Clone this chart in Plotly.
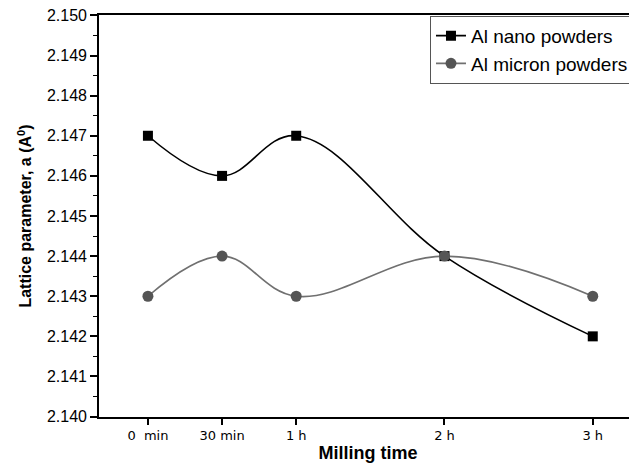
import plotly.graph_objects as go

milling_minutes = [0, 30, 60, 120, 180]
tick_labels = ["0\u00a0\u00a0min", "30\u00a0min", "1 h", "2 h", "3 h"]
nano = [2.147, 2.146, 2.147, 2.144, 2.142]
micron = [2.143, 2.144, 2.143, 2.144, 2.143]

fig = go.Figure()
fig.add_trace(go.Scatter(
    x=milling_minutes, y=nano, name="Al nano powders",
    mode="lines+markers",
    line=dict(color="#000000", width=1.6, shape="spline", smoothing=1.1),
    marker=dict(symbol="square", size=10, color="#000000"),
))
fig.add_trace(go.Scatter(
    x=milling_minutes, y=micron, name="Al micron powders",
    mode="lines+markers",
    line=dict(color="#707070", width=1.6, shape="spline", smoothing=1.1),
    marker=dict(symbol="circle", size=11, color="#555555"),
))

fig.update_layout(
    width=629, height=460,
    margin=dict(l=91, r=0, t=7, b=51),
    paper_bgcolor="white", plot_bgcolor="white",
    font=dict(family="Liberation Sans, Arial, sans-serif", color="#000000"),
    legend=dict(
        x=0.9944, y=0.998, xanchor="right", yanchor="top",
        bgcolor="white", bordercolor="#555555", borderwidth=1,
        font=dict(size=19, family="Liberation Sans, Arial, sans-serif"),
        tracegroupgap=0,
    ),
    showlegend=True,
)
fig.update_xaxes(
    range=[-19.8, 197.9],
    tickmode="array", tickvals=milling_minutes, ticktext=tick_labels,
    ticks="outside", ticklen=6, tickwidth=1.5, tickcolor="#000000",
    showline=True, linecolor="#000000", linewidth=1.6, mirror=True,
    showgrid=False, zeroline=False,
    tickfont=dict(family="DejaVu Sans, Verdana, sans-serif", size=13),
    title=dict(text="<b>Milling time</b>", font=dict(size=18), standoff=4),
)
fig.update_yaxes(
    range=[2.13999, 2.15001], tick0=2.140, dtick=0.001, tickformat=".3f",
    ticks="outside", ticklen=7, tickwidth=1.5, tickcolor="#000000",
    minor=dict(ticks="outside", dtick=0.0005, ticklen=4, tickwidth=1.2, tickcolor="#000000"),
    showline=True, linecolor="#000000", linewidth=1.6, mirror=False,
    showgrid=False, zeroline=False,
    tickfont=dict(size=16), ticklabeloverflow="allow",
    title=dict(text="<b>Lattice parameter, a (A<sup>0</sup>)</b>", font=dict(size=16), standoff=11),
)

fig.write_html("out.html")
